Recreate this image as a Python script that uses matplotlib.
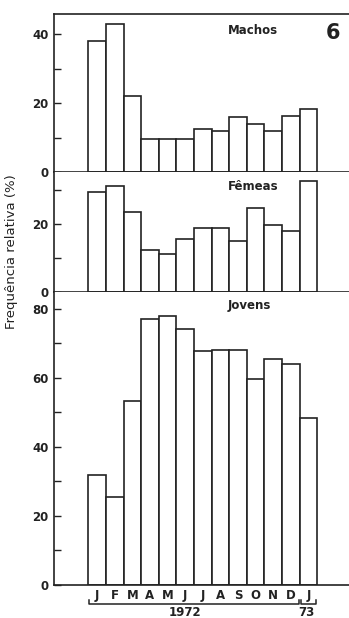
import matplotlib
matplotlib.use('Agg')
import matplotlib.pyplot as plt
import matplotlib.transforms as mtransforms
from matplotlib.ticker import MultipleLocator

months = ['J', 'F', 'M', 'A', 'M', 'J', 'J', 'A', 'S', 'O', 'N', 'D', 'J']
machos = [38, 43, 22, 9.5, 9.5, 9.5, 12.4, 11.8, 15.8, 13.9, 11.8, 16.2, 18.3]
femeas = [29.5, 31.1, 23.6, 12.3, 11.3, 15.5, 18.8, 18.8, 14.9, 24.7, 19.8, 17.8, 32.7]
jovens = [31.9, 25.4, 53.3, 77.1, 78.0, 74.2, 67.9, 68.1, 68.1, 59.7, 65.6, 64.0, 48.4]

W, H = 349, 618
fig = plt.figure(figsize=(W / 100, H / 100), dpi=100)
plt.rcParams['font.family'] = 'DejaVu Sans'
ink = '#222222'

left = 54 / W
panels = [
    # (data, name, top px, bottom px, ymax, labelled ticks, name y px)
    (machos, 'Machos', 14, 172, 45.8, [0, 20, 40], 30),
    (femeas, 'Fêmeas', 172, 292, 35.3, [0, 20], 186),
    (jovens, 'Jovens', 292, 585, 84.9, [0, 20, 40, 60, 80], 306),
]

x = list(range(len(months)))
axes = []
for data, name, top, bot, ymax, ticks, ny in panels:
    ax = fig.add_axes([left, 1 - bot / H, 1.0 - left, (bot - top) / H])
    ax.bar(x, data, width=1.0, color='white', edgecolor=ink, linewidth=1.2)
    ax.set_xlim(-2.45, 14.3)
    ax.set_ylim(0, ymax)
    ax.set_yticks(ticks)
    ax.yaxis.set_minor_locator(MultipleLocator(10))
    ax.tick_params(axis='y', which='both', direction='in', length=5, width=1,
                   labelsize=8.5, pad=4, colors=ink)
    for lab in ax.get_yticklabels():
        lab.set_fontweight('bold')
    ax.spines['right'].set_visible(False)
    for s in ['left', 'top', 'bottom']:
        ax.spines[s].set_linewidth(1.2)
        ax.spines[s].set_color(ink)
    ax.set_xticks([])
    fig.text(228 / W, 1 - ny / H, name, fontsize=8.5, fontweight='bold',
             color=ink, ha='left', va='center')
    axes.append(ax)

axes[1].spines['top'].set_visible(False)
axes[2].spines['top'].set_visible(False)

# figure number
fig.text(333 / W, 1 - 33 / H, '6', fontsize=15, fontweight='bold', color=ink,
         ha='center', va='center')

# month labels
ax = axes[2]
ax.set_xticks(x)
ax.set_xticklabels(months, fontsize=8.5, fontweight='bold', color=ink)
ax.tick_params(axis='x', length=0, pad=3)

# year brackets
trans = mtransforms.blended_transform_factory(ax.transData, fig.transFigure)
yb = 1 - 604 / H
yt = 1 - 600 / H
for x0, x1 in [(-0.45, 11.45), (11.55, 12.45)]:
    ax.plot([x0, x0, x1, x1], [yt, yb, yb, yt], transform=trans, color=ink,
            lw=1.1, clip_on=False)
fig.text(trans.transform((5.0, 0))[0] / W, 1 - 613 / H, '1972', fontsize=8.5,
         fontweight='bold', color=ink, ha='center', va='center')
fig.text(trans.transform((11.9, 0))[0] / W, 1 - 613 / H, '73', fontsize=8.5,
         fontweight='bold', color=ink, ha='center', va='center')

fig.text(12 / W, 1 - 252 / H, 'Frequência relativa (%)', rotation=90, fontsize=9.5,
         color=ink, ha='center', va='center')

fig.savefig('out.png', dpi=100)
